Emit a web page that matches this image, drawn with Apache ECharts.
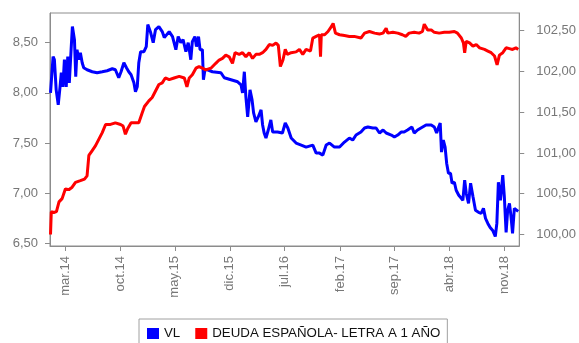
<!DOCTYPE html>
<html>
<head>
<meta charset="utf-8">
<script src="https://cdn.jsdelivr.net/npm/echarts@6/dist/echarts.min.js"></script>
<style>
  html, body { margin: 0; padding: 0; background: #ffffff; }
  #chart { width: 579px; height: 343px; }
</style>
</head>
<body>
<div id="chart"></div>
<script>
// Valor liquidativo del fondo (eje izquierdo)
const vlDates = [
  '2014-01-03','2014-01-13','2014-01-18','2014-01-25','2014-02-02','2014-02-09','2014-02-14','2014-02-20','2014-02-26',
  '2014-03-05','2014-03-11','2014-03-17','2014-03-24','2014-03-29','2014-04-06','2014-04-11','2014-04-16','2014-04-23',
  '2014-04-29','2014-05-06','2014-05-12','2014-05-25','2014-06-14','2014-07-03','2014-07-23','2014-08-11','2014-08-31',
  '2014-09-12','2014-09-25','2014-10-04','2014-10-15','2014-10-25','2014-11-03','2014-11-12','2014-11-23','2014-11-29',
  '2014-12-06','2014-12-12','2014-12-19','2015-01-01','2015-01-10','2015-01-16','2015-01-27','2015-02-06','2015-02-15',
  '2015-02-28','2015-03-13','2015-03-21','2015-04-09','2015-04-22','2015-05-05','2015-05-14','2015-05-24','2015-06-02',
  '2015-06-13','2015-06-22','2015-07-02','2015-07-08','2015-07-18','2015-07-24','2015-08-01','2015-08-07','2015-08-16',
  '2015-08-20','2015-08-26','2015-09-05','2015-09-24','2015-10-27','2015-11-09','2015-12-05','2015-12-31','2016-01-13',
  '2016-01-19','2016-01-26','2016-02-01','2016-02-08','2016-02-17','2016-02-25','2016-03-02','2016-03-11','2016-03-20',
  '2016-03-31','2016-04-06','2016-04-12','2016-04-19','2016-04-28','2016-05-08','2016-05-15','2016-06-03','2016-06-22',
  '2016-07-03','2016-07-13','2016-07-26','2016-08-14','2016-09-03','2016-09-22','2016-10-18','2016-10-31','2016-11-13',
  '2016-11-26','2016-12-09','2016-12-22','2017-01-10','2017-01-30','2017-02-18','2017-03-09','2017-03-22','2017-04-04',
  '2017-04-23','2017-05-07','2017-05-20','2017-06-08','2017-06-21','2017-07-04','2017-07-18','2017-07-30','2017-08-19',
  '2017-08-31','2017-09-13','2017-09-26','2017-10-08','2017-10-21','2017-11-07','2017-11-16','2017-11-29','2017-12-12',
  '2018-01-01','2018-01-21','2018-02-02','2018-02-11','2018-02-19','2018-02-25','2018-03-02','2018-03-09','2018-03-16',
  '2018-03-22','2018-03-29','2018-04-06','2018-04-12','2018-04-21','2018-04-28','2018-05-08','2018-05-18','2018-05-24',
  '2018-05-31','2018-06-06','2018-06-15','2018-06-23','2018-07-02','2018-07-12','2018-07-24','2018-08-03','2018-08-12',
  '2018-08-20','2018-08-29','2018-09-07','2018-09-17','2018-09-27','2018-10-03','2018-10-09','2018-10-17','2018-10-26',
  '2018-11-01','2018-11-08','2018-11-14','2018-11-21','2018-11-27','2018-12-03','2018-12-10','2018-12-16','2018-12-25'
];
const vlValues = [
  8.00, 8.36, 8.33, 8.03, 7.88, 8.06, 8.20, 8.06, 8.33,
  8.06, 8.36, 8.10, 8.43, 8.66, 8.53, 8.16, 8.43, 8.33,
  8.40, 8.30, 8.25, 8.23, 8.21, 8.20, 8.21, 8.22, 8.24,
  8.23, 8.15, 8.21, 8.30, 8.25, 8.21, 8.18, 8.10, 8.01,
  8.06, 8.30, 8.41, 8.41, 8.46, 8.68, 8.60, 8.50, 8.63,
  8.66, 8.61, 8.55, 8.61, 8.56, 8.43, 8.56, 8.50, 8.53,
  8.41, 8.50, 8.33, 8.51, 8.56, 8.46, 8.56, 8.43, 8.43,
  8.13, 8.23, 8.23, 8.21, 8.20, 8.15, 8.13, 8.11, 8.08,
  8.00, 8.21, 7.96, 7.76, 8.03, 7.93, 7.80, 7.71, 7.76,
  7.83, 7.68, 7.60, 7.55, 7.63, 7.73, 7.61, 7.61, 7.60,
  7.70, 7.65, 7.55, 7.50, 7.48, 7.46, 7.48, 7.40, 7.40,
  7.38, 7.48, 7.50, 7.46, 7.46, 7.51, 7.55, 7.53, 7.58,
  7.61, 7.65, 7.66, 7.65, 7.65, 7.60, 7.63, 7.60, 7.58,
  7.56, 7.58, 7.61, 7.61, 7.63, 7.66, 7.60, 7.63, 7.65,
  7.68, 7.68, 7.66, 7.60, 7.66, 7.70, 7.41, 7.53, 7.46,
  7.30, 7.20, 7.20, 7.10, 7.11, 7.03, 6.98, 6.95, 6.93,
  7.13, 7.00, 6.90, 7.10, 6.97, 6.83, 6.81, 6.80, 6.85,
  6.75, 6.70, 6.66, 6.63, 6.57, 6.70, 7.11, 6.93, 7.18,
  6.97, 6.61, 6.83, 6.90, 6.77, 6.60, 6.85, 6.85, 6.82
];

// Deuda española - letra a 1 año (eje derecho)
const letraDates = [
  '2014-01-03','2014-01-06','2014-01-16','2014-01-26','2014-02-05','2014-02-17','2014-03-02','2014-03-15','2014-03-28',
  '2014-04-10','2014-04-29','2014-05-15','2014-05-25','2014-06-01','2014-06-14','2014-06-27','2014-07-10','2014-07-23',
  '2014-08-05','2014-08-24','2014-09-12','2014-10-02','2014-10-12','2014-10-21','2014-10-30','2014-11-12','2014-11-29',
  '2014-12-12','2014-12-25','2015-01-03','2015-01-20','2015-02-02','2015-02-15','2015-02-28','2015-03-13','2015-03-25',
  '2015-04-09','2015-04-28','2015-05-18','2015-06-07','2015-06-17','2015-06-26','2015-07-08','2015-07-22','2015-08-03',
  '2015-08-16','2015-08-29','2015-09-18','2015-10-07','2015-10-20','2015-11-02','2015-11-15','2015-11-28','2015-12-11',
  '2015-12-21','2016-01-06','2016-01-19','2016-02-01','2016-02-14','2016-02-27','2016-03-11','2016-03-24','2016-04-06',
  '2016-04-19','2016-05-02','2016-05-15','2016-05-28','2016-06-06','2016-06-14','2016-06-18','2016-06-24','2016-07-03',
  '2016-07-11','2016-07-26','2016-08-14','2016-08-27','2016-09-09','2016-09-22','2016-10-09','2016-10-18','2016-10-31',
  '2016-11-13','2016-11-17','2016-11-20','2016-12-03','2016-12-16','2016-12-29','2017-01-05','2017-01-14','2017-01-30',
  '2017-02-18','2017-03-09','2017-03-28','2017-04-23','2017-05-07','2017-05-26','2017-06-15','2017-07-04','2017-07-18',
  '2017-07-30','2017-08-05','2017-08-25','2017-09-13','2017-10-01','2017-10-14','2017-10-27','2017-11-16','2017-12-05',
  '2017-12-18','2017-12-25','2018-01-07','2018-01-21','2018-02-02','2018-02-21','2018-03-13','2018-04-01','2018-04-21',
  '2018-05-03','2018-05-18','2018-05-26','2018-05-31','2018-06-06','2018-06-19','2018-07-02','2018-07-15','2018-07-28',
  '2018-08-16','2018-08-29','2018-09-11','2018-09-24','2018-09-30','2018-10-04','2018-10-13','2018-10-26','2018-11-08',
  '2018-11-21','2018-12-03','2018-12-16','2018-12-25'
];
const letraValues = [
  100.00, 100.28, 100.27, 100.28, 100.40, 100.44, 100.56, 100.55, 100.58,
  100.64, 100.66, 100.68, 100.72, 100.97, 101.03, 101.09, 101.17, 101.25,
  101.35, 101.35, 101.37, 101.35, 101.33, 101.23, 101.30, 101.37, 101.37,
  101.37, 101.49, 101.57, 101.64, 101.68, 101.76, 101.84, 101.86, 101.92,
  101.90, 101.92, 101.94, 101.92, 101.81, 101.92, 101.96, 102.04, 102.06,
  102.04, 102.02, 102.04, 102.10, 102.14, 102.16, 102.20, 102.18, 102.10,
  102.23, 102.21, 102.23, 102.18, 102.23, 102.16, 102.21, 102.21, 102.23,
  102.27, 102.33, 102.32, 102.35, 102.32, 102.06, 102.04, 102.14, 102.27,
  102.21, 102.23, 102.24, 102.27, 102.21, 102.27, 102.25, 102.41, 102.43,
  102.45, 102.18, 102.45, 102.45, 102.49, 102.55, 102.59, 102.47, 102.45,
  102.44, 102.43, 102.43, 102.41, 102.47, 102.49, 102.47, 102.46, 102.47,
  102.53, 102.47, 102.48, 102.47, 102.45, 102.43, 102.47, 102.48, 102.47,
  102.49, 102.58, 102.51, 102.51, 102.48, 102.47, 102.48, 102.48, 102.49,
  102.47, 102.41, 102.35, 102.23, 102.37, 102.35, 102.31, 102.33, 102.29,
  102.27, 102.25, 102.23, 102.19, 102.18, 102.08, 102.20, 102.23, 102.29,
  102.28, 102.27, 102.29, 102.27
];

// Etiquetas del eje temporal (cada 7 meses)
const monthTickDates = ['2014-03-01','2014-10-01','2015-05-01','2015-12-01','2016-07-01','2017-02-01','2017-09-01','2018-04-01','2018-11-01'];
const monthTickLabels = ['mar.14','oct.14','may.15','dic.15','jul.16','feb.17','sep.17','abr.18','nov.18'];

// Marcas de los ejes verticales
const vlTicks = [6.5, 7.0, 7.5, 8.0, 8.5];
const letraTicks = [100.0, 100.5, 101.0, 101.5, 102.0, 102.5];

const seriesNames = ['VL', 'DEUDA ESPAÑOLA- LETRA A 1 AÑO'];

const FONT = "'Liberation Sans', Arial, sans-serif";
const AXIS_GRAY = '#8c8c8c';
const LABEL_GRAY = '#777777';

// Fechas como marca de tiempo UTC (en días) para un eje numérico continuo
const DAY = 86400000;
function toDay(d) {
  const p = d.split('-').map(Number);
  return Date.UTC(p[0], p[1] - 1, p[2]) / DAY;
}
const tickDays = monthTickDates.map(toDay);
const labelByDay = {};
tickDays.forEach((t, i) => { labelByDay[t] = monthTickLabels[i]; });

const commaFmt = v => v.toFixed(2).replace('.', ',');

const chart = echarts.init(document.getElementById('chart'), null, { renderer: 'canvas' });

chart.setOption({
  animation: false,
  backgroundColor: '#ffffff',
  textStyle: { fontFamily: FONT },
  grid: {
    left: 50, right: 59, top: 13, bottom: 97,
    show: true, borderColor: AXIS_GRAY, borderWidth: 1, backgroundColor: 'transparent'
  },
  legend: {
    data: seriesNames,
    left: 139, top: 319,
    orient: 'horizontal',
    icon: 'rect',
    itemWidth: 12, itemHeight: 11,
    itemGap: 15,
    padding: [8, 7, 8, 8],
    borderColor: '#a0a0a0', borderWidth: 1,
    textStyle: { color: '#111111', fontSize: 13.3, fontFamily: FONT }
  },
  xAxis: {
    type: 'value',
    min: toDay('2014-01-01'),
    max: toDay('2018-12-29'),
    axisLine: { show: true, onZero: false, lineStyle: { color: AXIS_GRAY, width: 1 } },
    axisTick: { show: true, length: 5, customValues: tickDays, lineStyle: { color: AXIS_GRAY } },
    axisLabel: {
      customValues: tickDays,
      rotate: 90,
      margin: 10,
      color: LABEL_GRAY,
      fontSize: 13,
      fontFamily: FONT,
      formatter: v => labelByDay[v] || ''
    },
    splitLine: { show: false }
  },
  yAxis: [
    {
      type: 'value',
      position: 'left',
      min: 6.475, max: 8.795,
      axisLine: { show: true, onZero: false, lineStyle: { color: AXIS_GRAY, width: 1 } },
      axisTick: { show: true, inside: false, length: 5, customValues: vlTicks, lineStyle: { color: AXIS_GRAY } },
      axisLabel: { customValues: vlTicks, margin: 12, color: LABEL_GRAY, fontSize: 13, fontFamily: FONT, formatter: commaFmt },
      splitLine: { show: false }
    },
    {
      type: 'value',
      position: 'right',
      min: 99.859, max: 102.717,
      axisLine: { show: true, onZero: false, lineStyle: { color: AXIS_GRAY, width: 1 } },
      axisTick: { show: true, inside: false, length: 5, customValues: letraTicks, lineStyle: { color: AXIS_GRAY } },
      axisLabel: { customValues: letraTicks, margin: 17, color: LABEL_GRAY, fontSize: 13, fontFamily: FONT, formatter: commaFmt },
      splitLine: { show: false }
    }
  ],
  series: [
    {
      name: seriesNames[0],
      type: 'line',
      yAxisIndex: 0,
      data: vlDates.map((d, i) => [toDay(d), vlValues[i]]),
      showSymbol: false,
      symbol: 'none',
      lineStyle: { color: '#0000ff', width: 3 },
      itemStyle: { color: '#0000ff' }
    },
    {
      name: seriesNames[1],
      type: 'line',
      yAxisIndex: 1,
      data: letraDates.map((d, i) => [toDay(d), letraValues[i]]),
      showSymbol: false,
      symbol: 'none',
      lineStyle: { color: '#ff0000', width: 3 },
      itemStyle: { color: '#ff0000' }
    }
  ]
});
</script>
</body>
</html>
